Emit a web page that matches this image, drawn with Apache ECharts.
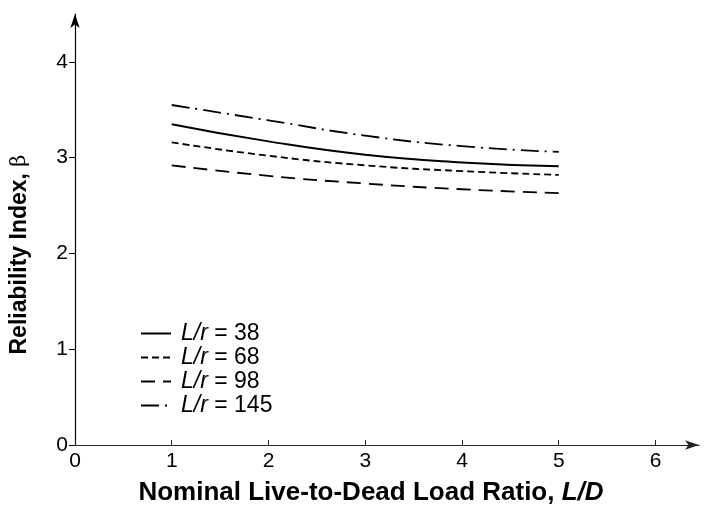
<!DOCTYPE html>
<html>
<head>
<meta charset="utf-8">
<script src="https://cdn.jsdelivr.net/npm/echarts@6/dist/echarts.min.js"></script>
<style>
    html, body { margin: 0; padding: 0; background: #fff; }
    #chart { width: 704px; height: 514px; }
</style>
</head>
<body>
<div id="chart"></div>
<script>
// load ratio L/D
var ratios = [1, 2, 3, 4, 5];
// slenderness L/r per curve
var slenderness = ['38', '68', '98', '145'];
// reliability index beta for each L/r
var beta38 = [3.35, 3.17, 3.03, 2.95, 2.91];
var beta68 = [3.16, 3.02, 2.92, 2.86, 2.82];
var beta98 = [2.92, 2.81, 2.73, 2.67, 2.63];
var beta145 = [3.55, 3.39, 3.23, 3.12, 3.06];

var dashes = ['solid', [7, 4], [14, 8], [18, 6, 2, 6]];
var allBeta = [beta38, beta68, beta98, beta145];

function pairs(ys) {
    return ratios.map(function (x, i) { return [x, ys[i]]; });
}

var chart = echarts.init(document.getElementById('chart'));

var series = slenderness.map(function (lr, k) {
    return {
        name: lr,
        type: 'line',
        smooth: true,
        symbol: 'none',
        data: pairs(allBeta[k]),
        itemStyle: { color: '#000' },
        lineStyle: { color: '#000', width: k === 0 ? 2 : 1.8, type: dashes[k] }
    };
});

var font = 'Liberation Sans, Arial, sans-serif';

var option = {
    animation: false,
    grid: { left: 73, right: 5, top: 14, bottom: 69 },
    legend: {
        orient: 'vertical',
        left: 140,
        top: 322,
        padding: 0,
        itemWidth: 30,
        itemHeight: 14,
        itemGap: 1,
        data: slenderness,
        itemStyle: { opacity: 0 },
        formatter: function (n) { return '{i|L/r} = ' + n; },
        textStyle: {
            fontFamily: font, fontSize: 23, color: '#000', padding: [0, 0, 0, 5],
            rich: { i: { fontFamily: font, fontSize: 23, fontStyle: 'italic', color: '#000' } }
        }
    },
    xAxis: {
        type: 'value',
        min: 0,
        max: 6.45,
        interval: 1,
        name: '{b|Nominal Live-to-Dead Load Ratio, }{bi|L/D}',
        nameLocation: 'middle',
        nameGap: 35,
        nameTextStyle: {
            padding: [0, 32, 0, 0],
            rich: {
                b: { fontFamily: font, fontSize: 26, fontWeight: 'bold', color: '#000' },
                bi: { fontFamily: font, fontSize: 26, fontWeight: 'bold', fontStyle: 'italic', color: '#000' }
            }
        },
        axisLine: { lineStyle: { color: '#222', width: 1.2 }, symbol: ['none', 'arrow'], symbolSize: [7, 14] },
        axisTick: { inside: true, length: 5, lineStyle: { color: '#222' } },
        axisLabel: {
            fontFamily: font, fontSize: 21, color: '#000', margin: 6,
            showMaxLabel: false,
            formatter: function (v) { return Number.isInteger(v) ? String(v) : ''; }
        },
        splitLine: { show: false }
    },
    yAxis: {
        type: 'value',
        min: 0,
        max: 4.5,
        interval: 1,
        name: '{b|Reliability Index, }{g|β}',
        nameLocation: 'middle',
        nameGap: 44,
        nameTextStyle: {
            padding: [0, 50, 0, 0],
            rich: {
                b: { fontFamily: font, fontSize: 23, fontWeight: 'bold', color: '#000' },
                g: { fontFamily: 'DejaVu Serif, serif', fontSize: 21, color: '#000' }
            }
        },
        axisLine: { show: true, lineStyle: { color: '#000', width: 1.2 }, symbol: ['none', 'arrow'], symbolSize: [7, 14] },
        axisTick: { show: true, inside: false, length: 6, lineStyle: { color: '#000' } },
        axisLabel: {
            fontFamily: font, fontSize: 21, color: '#000', margin: 7,
            showMaxLabel: false,
            formatter: function (v) { return Number.isInteger(v) ? String(v) : ''; }
        },
        splitLine: { show: false }
    },
    series: series
};

chart.setOption(option);
</script>
</body>
</html>
